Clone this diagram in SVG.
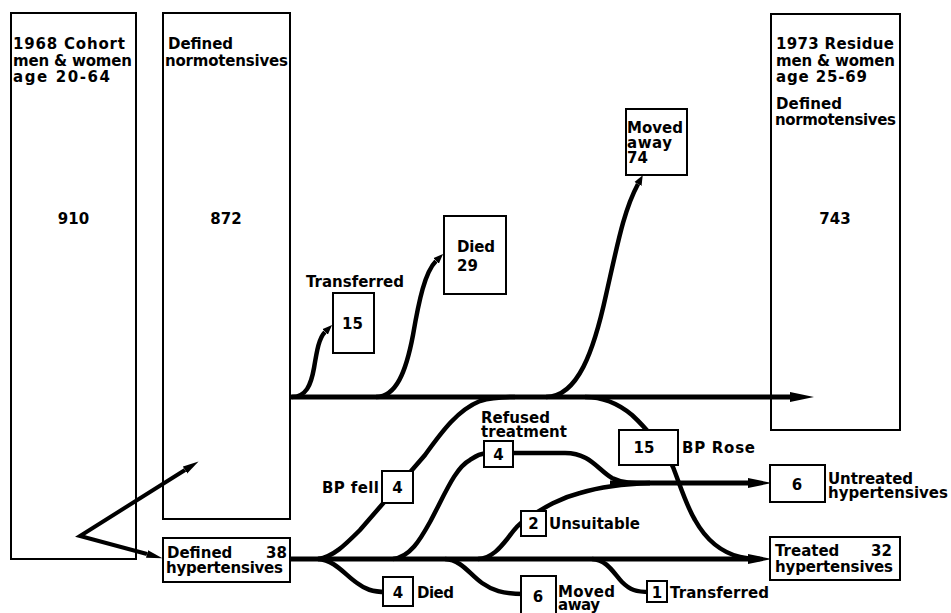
<svg xmlns="http://www.w3.org/2000/svg" width="951" height="613" viewBox="0 0 951 613">
<style>
.box{fill:#fff;stroke:#000;stroke-width:2}
.t{font-family:"DejaVu Sans","Liberation Sans",Arial,sans-serif;font-size:15px;font-weight:bold;fill:#000}
.m{text-anchor:middle}
.main{fill:none;stroke:#000;stroke-width:5}
.flow{fill:none;stroke:#000;stroke-width:4.5}
.v{fill:none;stroke:#000;stroke-width:4;stroke-linejoin:miter}
</style>
<defs>
<marker id="ah" markerUnits="userSpaceOnUse" markerWidth="24" markerHeight="12" viewBox="0 0 24 12" refX="0" refY="6" orient="auto"><path d="M0,1 L24,6 L0,11 Z" fill="#000"/></marker>
<marker id="as" markerUnits="userSpaceOnUse" markerWidth="10" markerHeight="9" viewBox="0 0 10 9" refX="0" refY="4.5" orient="auto"><path d="M0,0.5 L10,4.5 L0,8.5 Z" fill="#000"/></marker>
<marker id="av" markerUnits="userSpaceOnUse" markerWidth="16" markerHeight="10" viewBox="0 0 16 10" refX="0" refY="5" orient="auto-start-reverse"><path d="M0,1 L16,5 L0,9 Z" fill="#000"/></marker>
</defs>

<g id="cohort1968">
<rect class="box" x="11" y="13" width="125" height="546"/>
<text class="t" x="13" y="49" textLength="112" lengthAdjust="spacing">1968 Cohort</text>
<text class="t" x="13" y="66" textLength="119" lengthAdjust="spacing">men &amp; women</text>
<text class="t" x="13" y="82" textLength="97" lengthAdjust="spacing">age 20-64</text>
<text class="t m" x="73.5" y="224">910</text>
</g>
<g id="normotensives1968">
<rect class="box" x="163" y="13" width="127" height="506"/>
<text class="t" x="168" y="49" textLength="65" lengthAdjust="spacing">Defined</text>
<text class="t" x="165" y="66" textLength="123" lengthAdjust="spacing">normotensives</text>
<text class="t m" x="226" y="224">872</text>
</g>
<g id="residue1973">
<rect class="box" x="771" y="14" width="129" height="416"/>
<text class="t" x="776" y="49" textLength="118" lengthAdjust="spacing">1973 Residue</text>
<text class="t" x="776" y="66" textLength="119" lengthAdjust="spacing">men &amp; women</text>
<text class="t" x="776" y="82" textLength="91" lengthAdjust="spacing">age 25-69</text>
<text class="t" x="776" y="109" textLength="66" lengthAdjust="spacing">Defined</text>
<text class="t" x="775" y="125" textLength="121" lengthAdjust="spacing">normotensives</text>
<text class="t m" x="835" y="224">743</text>
</g>

<g id="connectors">
<path class="main" d="M290,397 H790" marker-end="url(#ah)"/>
<path class="flow" d="M292,397 C306,397 311,385 314,368 C317,350 319,338 325,332" marker-end="url(#as)"/>
<path class="flow" d="M376,397 C396,397 406,372 413,335 C419,300 425,272 436,261" marker-end="url(#as)"/>
<path class="flow" d="M546,397 C578,397 594,350 606,295 C618,242 624,210 638,184" marker-end="url(#as)"/>
<path class="v" d="M147,554 L80,536 L185,470" marker-start="url(#av)" marker-end="url(#av)"/>
<path class="main" d="M290,559 H748" marker-end="url(#ah)"/>
<path class="main" d="M610,483 H748" marker-end="url(#ah)"/>
<path class="flow" d="M318,559 C333,557 345,545 360,530 L425,455 C443,430 458,410 480,401 C490,398 500,397 515,397"/>
<path class="flow" d="M585,397 C605,397 620,405 632,415 C645,427 665,450 673,467 C680,485 686,505 695,520 C705,538 720,552 740,557 C748,559 752,559 760,559"/>
<path class="flow" d="M393,559 C410,557 420,540 430,522 C445,494 455,468 470,460 C476,456 480,453 490,453 L565,453 C590,453 598,470 612,478 C622,483 632,483 650,483"/>
<path class="flow" d="M478,559 C492,558 500,548 508,538 C514,530 518,524 528,518 C545,507 560,498 580,493 C600,487 620,484 650,483"/>
<path class="flow" d="M318,559 C335,560 345,575 357,583 C365,589 372,592 386,592"/>
<path class="flow" d="M445,559 C462,560 470,575 482,583 C492,590 502,594 524,594"/>
<path class="flow" d="M592,559 C608,560 614,574 622,582 C630,590 636,592 650,592"/>
</g>

<g id="transferred15">
<text class="t" x="306" y="287" textLength="98" lengthAdjust="spacing">Transferred</text>
<rect class="box" x="333" y="293" width="41" height="60"/>
<text class="t" x="342" y="329">15</text>
</g>
<g id="died29">
<rect class="box" x="444" y="216" width="62" height="78"/>
<text class="t" x="457" y="252" textLength="38" lengthAdjust="spacing">Died</text>
<text class="t" x="457" y="271">29</text>
</g>
<g id="movedaway74">
<rect class="box" x="626" y="109" width="61" height="66"/>
<text class="t" x="627" y="133" textLength="56" lengthAdjust="spacing">Moved</text>
<text class="t" x="627" y="148" textLength="45" lengthAdjust="spacing">away</text>
<text class="t" x="627" y="163">74</text>
</g>
<g id="hypertensives38">
<rect class="box" x="163" y="538" width="127" height="44"/>
<text class="t" y="558"><tspan x="167">Defined</tspan><tspan x="266">38</tspan></text>
<text class="t" x="166" y="573" textLength="117" lengthAdjust="spacing">hypertensives</text>
</g>
<g id="bpfell4">
<rect class="box" x="382" y="471" width="31" height="32"/>
<text class="t m" x="397.5" y="493">4</text>
<text class="t" x="322" y="493" textLength="57" lengthAdjust="spacing">BP fell</text>
</g>
<g id="refused4">
<text class="t" x="481" y="423" textLength="69" lengthAdjust="spacing">Refused</text>
<text class="t" x="481" y="437" textLength="86" lengthAdjust="spacing">treatment</text>
<rect class="box" x="484" y="441" width="29" height="26"/>
<text class="t m" x="498.5" y="460">4</text>
</g>
<g id="unsuitable2">
<rect class="box" x="521" y="511" width="25" height="25"/>
<text class="t m" x="533.5" y="529">2</text>
<text class="t" x="549" y="529" textLength="91" lengthAdjust="spacing">Unsuitable</text>
</g>
<g id="died4">
<rect class="box" x="383" y="577" width="30" height="29"/>
<text class="t m" x="398" y="598">4</text>
<text class="t" x="417" y="598" textLength="37" lengthAdjust="spacing">Died</text>
</g>
<g id="movedaway6">
<rect class="box" x="521" y="576" width="35" height="42"/>
<text class="t m" x="538" y="602">6</text>
<text class="t" x="558" y="597" textLength="57" lengthAdjust="spacing">Moved</text>
<text class="t" x="558" y="610" textLength="42" lengthAdjust="spacing">away</text>
</g>
<g id="transferred1">
<rect class="box" x="647" y="581" width="20" height="21"/>
<text class="t m" x="657" y="598">1</text>
<text class="t" x="670" y="598" textLength="99" lengthAdjust="spacing">Transferred</text>
</g>
<g id="bprose15">
<rect class="box" x="619" y="430" width="59" height="35"/>
<text class="t m" x="644" y="453">15</text>
<text class="t" x="682" y="453" textLength="73" lengthAdjust="spacing">BP Rose</text>
</g>
<g id="untreated6">
<rect class="box" x="770" y="465" width="55" height="37"/>
<text class="t m" x="797" y="490">6</text>
<text class="t" x="828" y="484" textLength="85" lengthAdjust="spacing">Untreated</text>
<text class="t" x="828" y="498" textLength="120" lengthAdjust="spacing">hypertensives</text>
</g>
<g id="treated32">
<rect class="box" x="770" y="537" width="130" height="43"/>
<text class="t" y="556"><tspan x="775">Treated</tspan><tspan x="871">32</tspan></text>
<text class="t" x="775" y="572" textLength="118" lengthAdjust="spacing">hypertensives</text>
</g>
</svg>
